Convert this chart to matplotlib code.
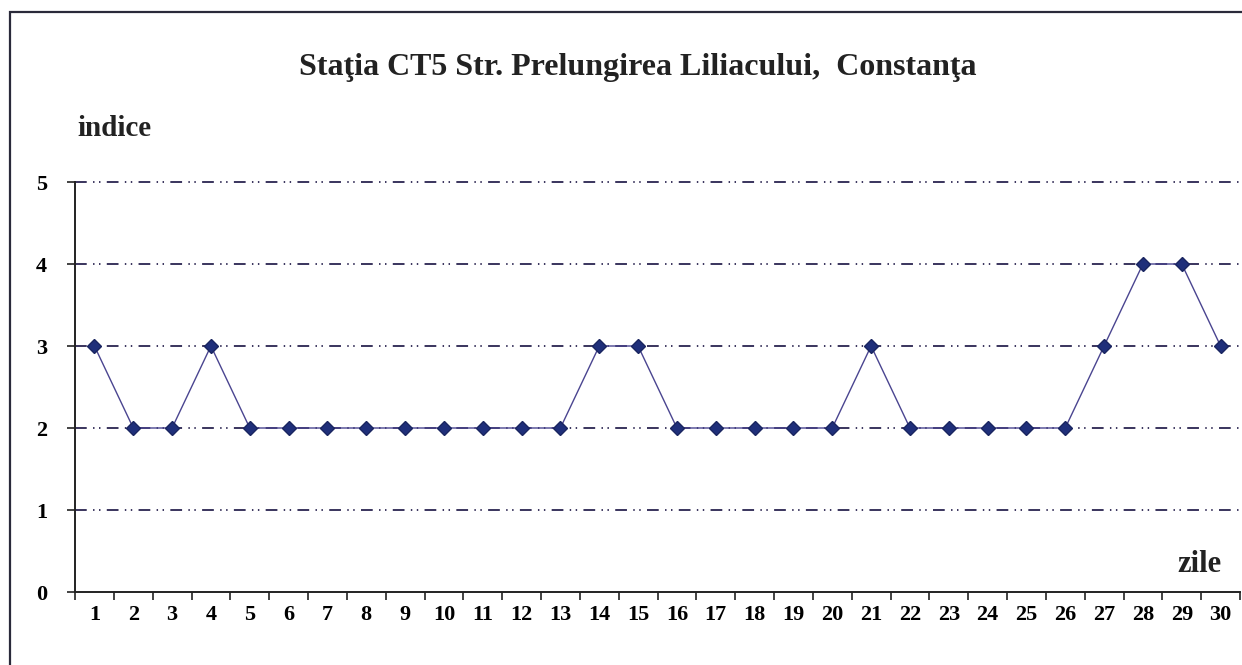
import matplotlib.pyplot as plt
from matplotlib.patches import Rectangle

# Daily index values, station CT5
days = list(range(1, 31))
indice = [3, 2, 2, 3, 2, 2, 2, 2, 2, 2, 2, 2, 2, 3, 3,
          2, 2, 2, 2, 2, 3, 2, 2, 2, 2, 2, 3, 4, 4, 3]
y_ticks = [0, 1, 2, 3, 4, 5]

title = "Staţia CT5 Str. Prelungirea Liliacului,  Constanţa"

plt.rcParams["font.family"] = ["Liberation Serif", "DejaVu Serif"]
plt.rcParams["font.weight"] = "bold"

W, H = 1242, 665
fig = plt.figure(figsize=(W / 100, H / 100), dpi=100)
fig.patch.set_facecolor("white")

# outer frame of the scanned chart (runs off right/bottom edge)
fig.patches.append(Rectangle((10 / W, -0.1), 1.2, 1 - 12 / H + 0.1,
                             transform=fig.transFigure, fill=False,
                             edgecolor="#2a2a3a", linewidth=1.6,
                             clip_on=False))

left, right = 75 / W, 1240 / W
bottom, top = 1 - 592 / H, 1 - 182 / H
ax = fig.add_axes([left, bottom, right - left, top - bottom])

ax.set_xlim(0.5, 30.5)
ax.set_ylim(0, 5)

for y in y_ticks[1:]:
    ax.axhline(y, color="#2a2450", linewidth=1.3,
               dashes=(6.5, 3.5, 0.8, 2.5, 0.8, 3.5), zorder=1,
               clip_on=False)

ax.plot(days, indice, color="#4a4590", linewidth=1.0, zorder=2)
ax.plot(days, indice, linestyle="none", marker="D", markersize=7,
        color="#1f2f7a", markeredgecolor="#1a2560", zorder=3)

ax.set_yticks(y_ticks)
ax.set_yticklabels([str(v) for v in y_ticks], fontsize=16, fontweight="bold")
ax.set_xticks([d + 0.5 for d in [0] + days], minor=False)
ax.set_xticklabels([])
ax.set_xticks(days, minor=True)
ax.set_xticklabels([str(d) for d in days], minor=True,
                   fontsize=16, fontweight="bold")
ax.tick_params(axis="x", which="major", direction="out", length=6,
               width=1.2, color="#222")
ax.tick_params(axis="x", which="minor", length=0, pad=9)
ax.tick_params(axis="y", direction="out", length=6, width=1.2,
               color="#222", pad=14)

for side in ("top", "right"):
    ax.spines[side].set_visible(False)
for side in ("left", "bottom"):
    ax.spines[side].set_linewidth(1.4)
    ax.spines[side].set_color("#222")

fig.text(638 / W, 1 - 67 / H, title, ha="center", va="center",
         fontsize=23, fontweight="bold", color="#222")
fig.text(77 / W, 1 - 128 / H, "indice", ha="left", va="center",
         fontsize=21, fontweight="bold", color="#222")
fig.text(1221 / W, 1 - 565 / H, "zile", ha="right", va="center",
         fontsize=22, fontweight="bold", color="#222")

fig.savefig("out.png", dpi=100)
